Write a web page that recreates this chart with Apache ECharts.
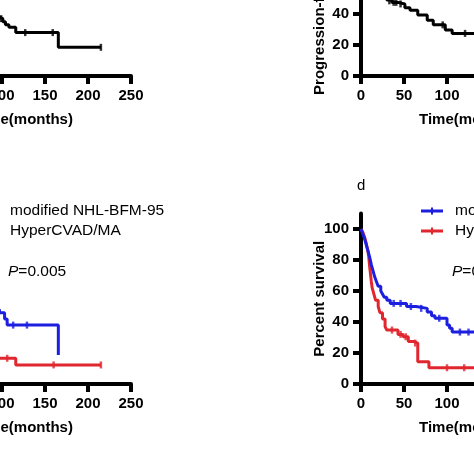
<!DOCTYPE html>
<html><head><meta charset="utf-8">
<script src="https://cdn.jsdelivr.net/npm/echarts@6/dist/echarts.min.js"></script>
<style>html,body{margin:0;padding:0;background:#fff}#c{width:474px;height:474px}</style>
</head><body><div id="c"></div>
<script>
// ---- data ----
const seriesNames = ['modified NHL-BFM-95', 'HyperCVAD/MA'];
const xTicks = [0, 50, 100, 150, 200, 250];
const yTicks = [0, 20, 40, 60, 80, 100];
const pValueC = '0.005';
const pValueD = '0.002';

// panel a (top-left): [months, percent]
const panelA = [[0,100],[3,95],[6,88],[10,80],[15,72],[20,65],[27,58],[35,52],[45,47],[60,43],[75,40],[90,38],[97,37],[101,35],[104,33],[108,31.5],[116,28],[165.5,18.5],[215,18.5]];
const panelACensor = [[99,37],[127,28],[159,28],[215,18.5]];

// panel b (top-right)
const panelB = [[0,100],[3,95],[6,90],[9,85],[12,78],[15,72],[18,66],[21,61],[24,57],[27,53],[30,49],[36,47.5],[43,46.5],[51,44],[57,42.5],[66,39.3],[77,36],[84,33],[98,29.7],[106,27.5],[200,27.5]];
const panelBCensor = [[33,48.5],[38,47.5],[41,47.5],[46,46.5],[95,33],[121,27.5]];

// panel c (bottom-left)
const panelCBfm = [[0,100],[4,94],[8,86],[12,78],[16,71],[20,66],[25,61],[30,58],[40,55],[55,52],[70,50],[85,48],[97,46],[103,42],[106,38],[165.5,18.7]];
const panelCBfmCensor = [[113,38],[129,38]];
const panelCHyper = [[0,100],[3,92],[6,82],[9,72],[12,62],[16,54],[20,48],[25,40],[30,34],[40,30],[50,27],[60,24],[70,20],[80,16.6],[116,12.3],[215,12.3]];
const panelCHyperCensor = [[106,16.6],[160,12.3],[215,12.3]];

// panel d (bottom-right)
const panelDBfm = [[0,100],[2,97],[4,94],[6,90],[8,86],[10,82],[12,77],[14,73],[16,69],[18,66],[20,63],[23,60],[25,58],[27,56],[30,54],[34,52],[53,50],[64,48.8],[77,46.5],[82,44],[86,42.4],[100,38],[103,36],[106,33.5],[170,33.5]];
const panelDBfmCensor = [[38,52],[46,52],[58,50],[70,48.8],[91,42.4],[115,33.5],[125,33.5]];
const panelDHyper = [[0,100],[2,98],[4,95],[6,91],[8,86],[9,82],[10,76],[11,71],[12,66],[13,62],[15,58],[17,54],[20,50],[22,46],[25,42],[28,37],[30,34.8],[43,32],[49,30.5],[55,27.5],[61,26.4],[66,14.4],[79,10.5],[200,10.5]];
const panelDHyperCensor = [[36,34.8],[46,32],[52,30.5],[63,26.4],[100,10.5],[120,10.5]];

// ---- styling ----
const FONT = 'Arial, "Liberation Sans", Helvetica, sans-serif';
const BLACK = '#000000', BLUE = '#1c1ee0', RED = '#e0262e';

const grids = [
  {left: -84, top: -94.5, width: 215, height: 170.5, outerBoundsMode: 'none', containLabel: false},
  {left: 361, top: -94.5, width: 215, height: 170.5, outerBoundsMode: 'none', containLabel: false},
  {left: -84, top: 213.5, width: 215, height: 170.5, outerBoundsMode: 'none', containLabel: false},
  {left: 361, top: 213.5, width: 215, height: 170.5, outerBoundsMode: 'none', containLabel: false}
];
const yNames = ['Percent survival', 'Progression-free survival (%)', 'Percent survival', 'Percent survival'];

const axisCommon = {
  axisLine: {show: true, onZero: false, lineStyle: {color: BLACK, width: 4}},
  splitLine: {show: false},
  nameLocation: 'middle',
  nameMoveOverlap: false,
  nameTextStyle: {fontSize: 15, fontWeight: 'bold', color: BLACK, fontFamily: FONT}
};
const xAxes = grids.map((g, i) => Object.assign({}, axisCommon, {
  gridIndex: i, type: 'value', min: 0, max: 250, interval: 50,
  name: 'Time(months)', nameGap: 36,
  axisTick: {show: true, length: 8, lineStyle: {color: BLACK, width: 4}, customValues: xTicks},
  axisLabel: {fontSize: 15, fontWeight: 'bold', color: BLACK, margin: 12, fontFamily: FONT, customValues: xTicks}
}));
const yAxes = grids.map((g, i) => Object.assign({}, axisCommon, {
  gridIndex: i, type: 'value', min: 0, max: 110, interval: 20,
  name: yNames[i], nameGap: 34,
  axisTick: {show: true, length: 8, lineStyle: {color: BLACK, width: 4}, customValues: yTicks},
  axisLabel: {fontSize: 15, fontWeight: 'bold', color: BLACK, margin: 12, fontFamily: FONT, customValues: yTicks}
}));

function km(name, data, gi, color) {
  return {name, type: 'line', step: 'end', data, xAxisIndex: gi, yAxisIndex: gi,
    symbol: 'none', silent: true, animation: false,
    lineStyle: {color, width: 3}, itemStyle: {color}};
}
function censor(name, data, gi, color) {
  return {name, type: 'scatter', data, xAxisIndex: gi, yAxisIndex: gi,
    symbol: 'rect', symbolSize: [2.5, 7], silent: true, animation: false,
    itemStyle: {color}};
}

const legendIcon = 'path://M0,2 H10 V0 H12 V2 H22 V5 H12 V7 H10 V5 H0 Z';
function legend(left) {
  return {data: seriesNames, orient: 'vertical', left, top: 203, padding: 0,
    itemWidth: 22, itemHeight: 7, itemGap: 4, icon: legendIcon, selectedMode: false,
    textStyle: {fontSize: 15.5, color: BLACK, fontFamily: FONT, lineHeight: 16, padding: [0, 0, 0, 7]}};
}
function pTitle(left, val) {
  return {text: '{i|P}=' + val, left, top: 264, padding: 0,
    textStyle: {fontSize: 15.5, fontWeight: 'normal', color: BLACK, fontFamily: FONT,
      rich: {i: {fontStyle: 'italic', fontSize: 15.5, color: BLACK, fontFamily: FONT}}}};
}

const chart = echarts.init(document.getElementById('c'), null, {renderer: 'canvas'});
chart.setOption({
  backgroundColor: '#ffffff',
  animation: false,
  title: [
    pTitle(8, pValueC),
    pTitle(452, pValueD),
    {text: 'c', left: -89, top: 177, padding: 0, textStyle: {fontSize: 15, fontWeight: 'normal', color: BLACK, fontFamily: FONT}},
    {text: 'd', left: 357, top: 178, padding: 0, textStyle: {fontSize: 15, fontWeight: 'normal', color: BLACK, fontFamily: FONT}}
  ],
  legend: [legend(-24), legend(421)],
  grid: grids,
  xAxis: xAxes,
  yAxis: yAxes,
  series: [
    km('panel a', panelA, 0, BLACK),
    censor('panel a censored', panelACensor, 0, BLACK),
    km('panel b', panelB, 1, BLACK),
    censor('panel b censored', panelBCensor, 1, BLACK),
    km(seriesNames[0], panelCBfm, 2, BLUE),
    km(seriesNames[1], panelCHyper, 2, RED),
    censor('c bfm censored', panelCBfmCensor, 2, BLUE),
    censor('c hyper censored', panelCHyperCensor, 2, RED),
    km(seriesNames[1], panelDHyper, 3, RED),
    km(seriesNames[0], panelDBfm, 3, BLUE),
    censor('d hyper censored', panelDHyperCensor, 3, RED),
    censor('d bfm censored', panelDBfmCensor, 3, BLUE)
  ]
});
</script></body></html>
